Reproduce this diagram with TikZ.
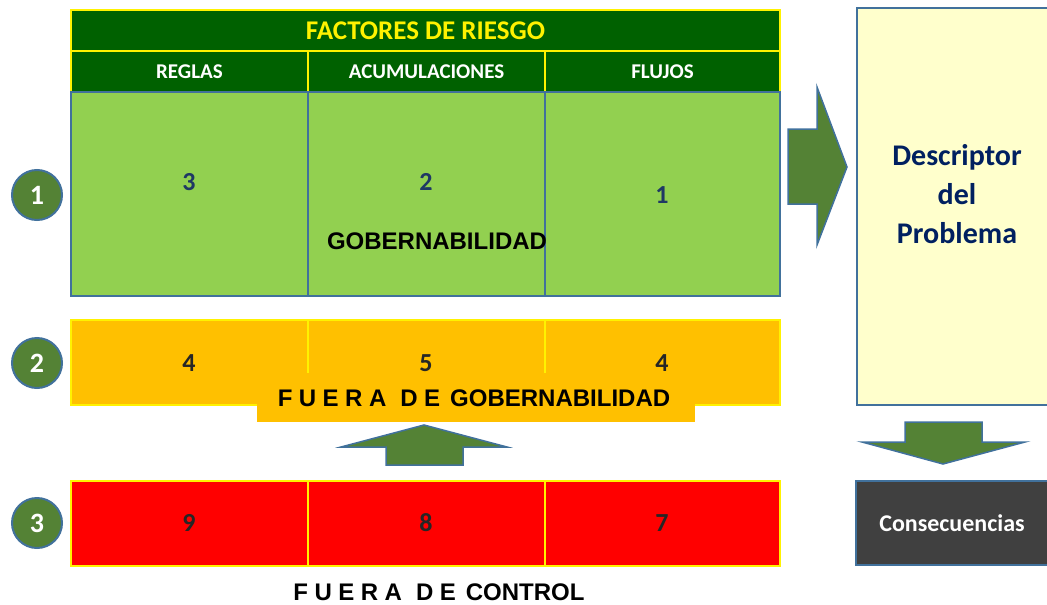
\documentclass[tikz,border=0pt]{standalone}
\usepackage{fontspec}
\setmainfont{Carlito}
\newfontfamily\arialfont{Liberation Sans}
\usetikzlibrary{positioning}

\definecolor{hdgreen}{RGB}{0,97,0}
\definecolor{lgreen}{RGB}{146,208,80}
\definecolor{amber}{RGB}{255,192,0}
\definecolor{bordblue}{RGB}{65,113,156}
\definecolor{circgreen}{RGB}{84,130,53}
\definecolor{numnavy}{RGB}{31,56,100}
\definecolor{numgrey}{RGB}{38,38,38}
\definecolor{descnavy}{RGB}{0,32,96}
\definecolor{paleyellow}{RGB}{255,255,204}
\definecolor{darkgrey}{RGB}{64,64,64}

\newcommand{\lgap}{\hspace{6.5pt}}

\tikzset{
    cell/.style={inner sep=0pt, outer sep=0pt, minimum height=#1},
    hdr/.style={cell=41pt, fill=hdgreen, draw=yellow, line width=2pt, text=white,
        font=\bfseries\fontsize{21}{24}\selectfont},
    gov/.style={cell=204pt, fill=lgreen, draw=bordblue, line width=1.5pt},
    ambercell/.style={cell=85pt, fill=amber, draw=yellow, line width=2pt},
    redcell/.style={cell=85pt, fill=red, draw=yellow, line width=2pt},
    num/.style={font=\bfseries\fontsize{26}{30}\selectfont, text=#1},
    rownum/.style={circle, minimum size=50pt, inner sep=0pt, fill=circgreen, draw=bordblue,
        line width=2pt, text=white, font=\bfseries\fontsize{28}{32}\selectfont},
    blockarrow/.style={fill=circgreen, draw=bordblue, line width=1.5pt, line join=miter},
    bigtext/.style={font=\arialfont\bfseries\fontsize{24}{27}\selectfont}
}

\begin{document}
\begin{tikzpicture}[x=1pt, y=-1pt]
\useasboundingbox (0,0) rectangle (1047,605);

% header
\node[hdr, minimum width=709pt, text=yellow, font=\bfseries\fontsize{27}{30}\selectfont]
    (title) at (425.5,30.5) {FACTORES DE RIESGO};
\node[hdr, minimum width=237pt] (reglas) at (189.5,71.5) {REGLAS};
\node[hdr, minimum width=237pt] (acum) at (426.5,71.5) {ACUMULACIONES};
\node[hdr, minimum width=235pt] (flujos) at (662.5,71.5) {FLUJOS};

% row 1
\node[gov, minimum width=237pt] (g1) at (189.5,194) {};
\node[gov, minimum width=237pt] (g2) at (426.5,194) {};
\node[gov, minimum width=235pt] (g3) at (662.5,194) {};
\node[num=numnavy] (n3) at (189,182) {3};
\node[num=numnavy] (n2) at (426,182) {2};
\node[num=numnavy] (n1) at (662,195) {1};
\node[bigtext] (gob) at (437,241) {GOBERNABILIDAD};

% row 2
\node[ambercell, minimum width=237pt] (a1) at (189.5,362.5) {};
\node[ambercell, minimum width=237pt] (a2) at (426.5,362.5) {};
\node[ambercell, minimum width=235pt] (a3) at (662.5,362.5) {};
\node[num=numgrey] (n4a) at (189,363) {4};
\node[num=numgrey] (n5) at (426,363) {5};
\node[num=numgrey] (n4b) at (662,363) {4};
\node[cell=49pt, minimum width=438pt, fill=amber] (fgob) at (476,397.5) {};
\node[bigtext] (fgobtext) at (474,398)
    {F\lgap U\lgap E\lgap R\lgap A\hspace{14pt}D\lgap E\hspace{10pt}GOBERNABILIDAD};

% row 3
\node[redcell, minimum width=237pt] (r1) at (189.5,523.5) {};
\node[redcell, minimum width=237pt] (r2) at (426.5,523.5) {};
\node[redcell, minimum width=235pt] (r3) at (662.5,523.5) {};
\node[num=numgrey] (n9) at (189,523) {9};
\node[num=numgrey] (n8) at (426,523) {8};
\node[num=numgrey] (n7) at (662,523) {7};
\node[bigtext] (fcon) at (439,592)
    {F\lgap U\lgap E\lgap R\lgap A\hspace{14pt}D\lgap E\hspace{10pt}CONTROL};

% row numbers
\node[rownum] (c1) at (37,195) {1};
\node[rownum] (c2) at (37,363) {2};
\node[rownum] (c3) at (37,523) {3};

% right column
\node[cell=397pt, minimum width=196pt, fill=paleyellow, draw=bordblue, line width=1.5pt]
    (desc) at (955,206.5) {};
\node[text=descnavy, align=center, font=\bfseries\fontsize{30}{39}\selectfont]
    (desctext) at (957,194) {Descriptor\\del\\Problema};
\node[cell=84pt, minimum width=196pt, fill=darkgrey, draw=bordblue, line width=1.5pt,
    text=white, font=\bfseries\fontsize{24}{28}\selectfont]
    (cons) at (954,523) {\hspace{-4pt}Consecuencias\hspace{4pt}};

% arrows
\draw[blockarrow] (386,465) -- (386,447) -- (341,447) -- (424,425) -- (507,447)
    -- (463,447) -- (463,465) -- cycle;
\draw[blockarrow] (788,129) -- (817,129) -- (817,87) -- (847,167) -- (817,245)
    -- (817,204) -- (788,204) -- cycle;
\draw[blockarrow] (905,422) -- (982,422) -- (982,442) -- (1025,442) -- (943,464)
    -- (862,442) -- (905,442) -- cycle;
\end{tikzpicture}
\end{document}
